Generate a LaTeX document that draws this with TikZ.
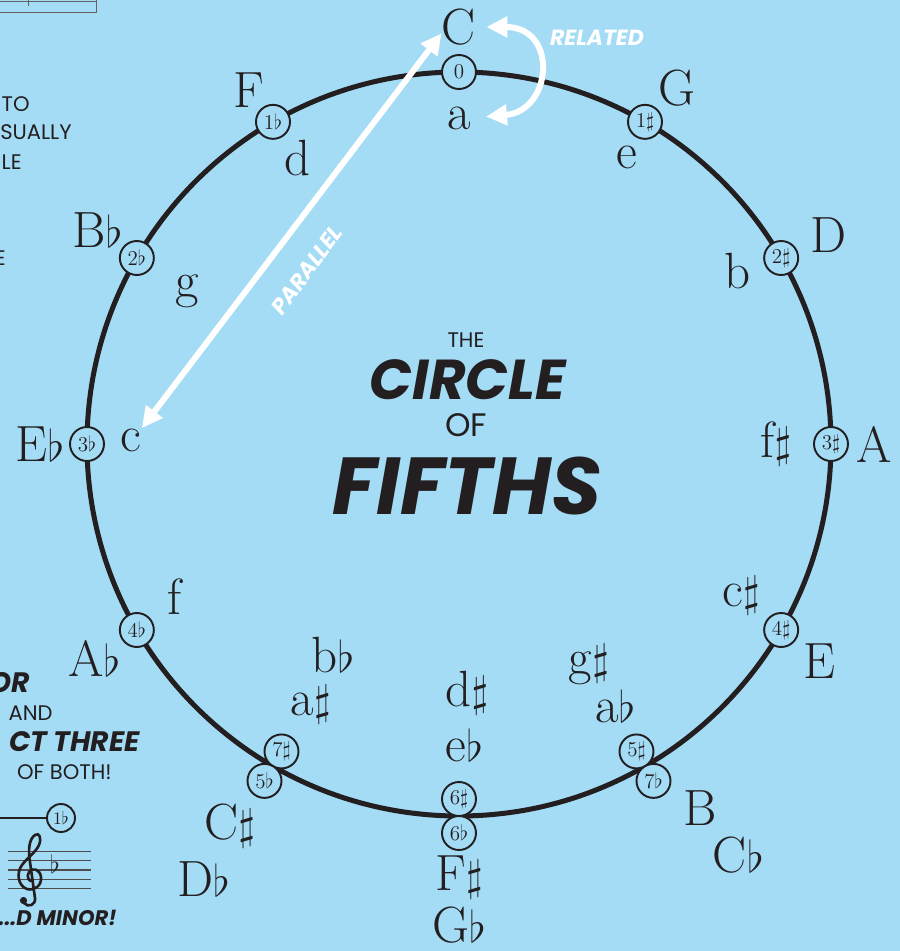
\documentclass[tikz,border=0pt]{standalone}
\usepackage{fontspec}
\usepackage{tikz}
\usetikzlibrary{arrows.meta,positioning,calc}

\newfontfamily\comicfont{Poppins}
\definecolor{skyblue}{RGB}{164,220,246}
\definecolor{inkblack}{RGB}{35,31,32}
\newcommand{\keysize}{\fontsize{29}{30}\selectfont}

\begin{document}
\begin{tikzpicture}[
    x=0.02cm, y=0.02cm,
    keyname/.style={font=\keysize, text=inkblack, inner sep=0pt},
    badge/.style={circle, draw=inkblack, fill=skyblue, line width=1.1pt, minimum size=0.68cm, inner sep=0pt, text=inkblack, font=\fontsize{12}{12}\selectfont},
    ring/.style={draw=inkblack, line width=2.85pt},
    hint/.style={font=\comicfont\fontsize{12}{12}\selectfont, text=inkblack, anchor=east, inner sep=0pt},
    shout/.style={font=\comicfont\bfseries\itshape\fontsize{16}{16}\selectfont, text=inkblack, anchor=east, inner sep=0pt},
    staffline/.style={draw=inkblack!80, line width=0.6pt},
    whitearrow/.style={draw=white, line width=3.4pt, {Triangle[length=0.42cm,width=0.4cm]}-{Triangle[length=0.42cm,width=0.4cm]}},
    tag/.style={font=\comicfont\bfseries\itshape\fontsize{12.5}{12.5}\selectfont, text=white, inner sep=0pt}
]
    \useasboundingbox (-459,-507) rectangle (441,444);
    \fill [skyblue] (-459,-507) rectangle (441,444);
    \clip (-459,-507) rectangle (441,444);

    % the ring
    \draw [ring] (0,0) circle [radius=372];

    % key signature badges
    \node [badge] (k0)  at (90:372)   {0};
    \node [badge] (k1s) at (60:372)   {1$\sharp$};
    \node [badge] (k2s) at (30:372)   {2$\sharp$};
    \node [badge] (k3s) at (0:372)    {3$\sharp$};
    \node [badge] (k4s) at (-30:372)  {4$\sharp$};
    \node [badge] (k5s) at (-60:355)  {5$\sharp$};
    \node [badge] (k7f) at (-60:389)  {7$\flat$};
    \node [badge] (k6s) at (-90:355)  {6$\sharp$};
    \node [badge] (k6f) at (-90:389)  {6$\flat$};
    \node [badge] (k7s) at (-120:355) {7$\sharp$};
    \node [badge] (k5f) at (-120:389) {5$\flat$};
    \node [badge] (k4f) at (-150:372) {4$\flat$};
    \node [badge] (k3f) at (180:372)  {3$\flat$};
    \node [badge] (k2f) at (150:372)  {2$\flat$};
    \node [badge] (k1f) at (120:372)  {1$\flat$};

    % major keys (outside)
    \node [keyname] (majC)  at (90:417)     {C};
    \node [keyname] (majG)  at (58.5:417)   {G};
    \node [keyname] (majD)  at (29.5:424)   {D};
    \node [keyname] (majA)  at (0:415)      {A};
    \node [keyname] (majE)  at (-31:421)    {E};
    \node [keyname] (majB)  at (-56.5:437)  {B};
    \node [keyname] (majCb) at (-55.8:497)  {C$\flat$};
    \node [keyname] (majFs) at (-90:433)    {F$\sharp$};
    \node [keyname] (majGb) at (-90:481)    {G$\flat$};
    \node [keyname] (majCs) at (-121:445)   {C$\sharp$};
    \node [keyname] (majDb) at (-120.4:505) {D$\flat$};
    \node [keyname] (majAb) at (-149.6:423) {A$\flat$};
    \node [keyname] (majEb) at (180:419)    {E$\flat$};
    \node [keyname] (majBb) at (149.4:420)  {B$\flat$};
    \node [keyname] (majF)  at (120.7:412)  {F};

    % minor keys (inside)
    \node [keyname] (minA)  at (90:326)     {a};
    \node [keyname] (minE)  at (59.6:332)   {e};
    \node [keyname] (minB)  at (31.8:328)   {b};
    \node [keyname] (minFs) at (0:317)      {f$\sharp$};
    \node [keyname] (minCs) at (-28.2:320)  {c$\sharp$};
    \node [keyname] (minGs) at (-59.5:256)  {g$\sharp$};
    \node [keyname] (minAb) at (-59.2:305)  {a$\flat$};
    \node [keyname] (minDs) at (-88.2:249)  {d$\sharp$};
    \node [keyname] (minEb) at (-89:301)    {e$\flat$};
    \node [keyname] (minBb) at (-120.8:246) {b$\flat$};
    \node [keyname] (minAs) at (-119.6:300) {a$\sharp$};
    \node [keyname] (minF)  at (-151.9:323) {f};
    \node [keyname] (minC)  at (179.3:328)  {c};
    \node [keyname] (minG)  at (150.6:312)  {g};
    \node [keyname] (minD)  at (119.4:328)  {d};

    % white arrows
    \draw [whitearrow] (majC.200) -- (minC.north east);
    \draw [whitearrow, shorten <=0.2cm, shorten >=0.3cm] (majC.east) to [out=0, in=5, looseness=2.3] (minA.east);
    \node [tag, rotate=53.5] (parallel) at (-152,174) {PARALLEL};
    \node [tag] (related) at (138,406) {RELATED};

    % title
    \node [font=\comicfont\fontsize{12}{12}\selectfont, text=inkblack, inner sep=0pt] (the) at (7,104) {THE};
    \node [font=\comicfont\bfseries\itshape\fontsize{32}{32}\selectfont, text=inkblack, inner sep=0pt] (circle) at (9,64) {CIRCLE};
    \node [font=\comicfont\fontsize{18.5}{18.5}\selectfont, text=inkblack, inner sep=0pt] (of) at (7,19) {OF};
    \node [font=\comicfont\bfseries\itshape\fontsize{46}{46}\selectfont, text=inkblack, inner sep=0pt] (fifths) at (8,-42) {FIFTHS};

    % cut-off side notes
    \draw [inkblack!70, line width=0.5pt] (-459,432) -- (-363,432) -- (-363,444);
    \draw [inkblack!70, line width=0.5pt] (-431,438) -- (-431,444);
    \draw [inkblack!70, line width=0.5pt] (-459,443) -- (-363,443);
    \node [hint] (to) at (-429,340) {TO};
    \node [hint] (usually) at (-387,312) {USUALLY};
    \node [hint] (le) at (-437,282) {LE};
    \node [hint] (e) at (-453,186) {E};
    \node [shout] (or) at (-429,-239) {OR};
    \node [hint] (and) at (-406,-269) {AND};
    \node [shout] (three) at (-319,-298) {CT THREE};
    \node [hint] (both) at (-347,-328) {OF BOTH!};

    % little staff
    \coordinate (staffend) at (-470,-374);
    \node [badge, minimum size=0.56cm, font=\fontsize{10}{10}\selectfont] (sk1f) at (-398,-374) {1$\flat$};
    \draw [inkblack, line width=1.1pt] (staffend) -- (sk1f);
    \foreach \k in {0,...,4}
        \draw [staffline] (-451,-407.7-9.15*\k) -- (-368,-407.7-9.15*\k);
    % treble clef, drawn in page pixels
    \begin{scope}[shift={(-459,444)}, yscale=-1]
        \draw [inkblack, line width=1.5pt, line cap=round]
            (33,881) .. controls (29,882) and (26,877) .. (29,872)
                     .. controls (32,867) and (40,869) .. (41,877)
                     .. controls (42,886) and (34,891) .. (27,889)
                     .. controls (18,886) and (16,873) .. (22,865)
                     .. controls (28,857) and (36,852) .. (39,845)
                     .. controls (42,838) and (39,832) .. (35,835)
                     .. controls (29,839) and (28,850) .. (30,862)
                     -- (35,898)
                     .. controls (36,905) and (28,908) .. (24,903);
        \fill [inkblack] (23.5,900.5) circle [radius=3.6];
    \end{scope}
    \node [text=inkblack, inner sep=0pt, font=\fontsize{15}{15}\selectfont] (flat) at (-404,-420) {$\flat$};
    \node [shout, font=\comicfont\bfseries\itshape\fontsize{12}{12}\selectfont] (dminor) at (-342,-474) {...D MINOR!};
\end{tikzpicture}
\end{document}
